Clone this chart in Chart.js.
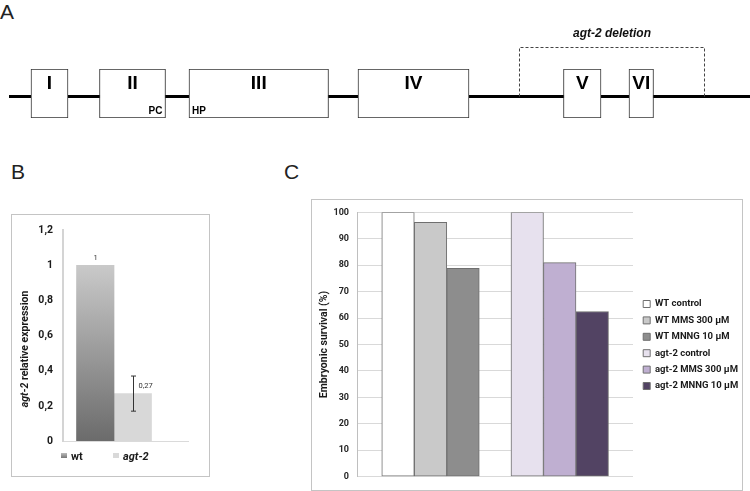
<!DOCTYPE html>
<html>
<head>
<meta charset="utf-8">
<script src="https://cdn.jsdelivr.net/npm/chart.js@4.4.1/dist/chart.umd.min.js"></script>
<style>
    body { margin: 0; background: #fff; }
    #page { position: relative; width: 750px; height: 491px; overflow: hidden; font-family: Roboto, 'Liberation Sans', sans-serif; }
    .abs { position: absolute; }
    .panel-letter { font-family: 'Liberation Sans', sans-serif; font-size: 21px; color: #222; line-height: 1; }
    .frame { border: 1px solid #c4c4c4; box-sizing: border-box; }
    .ytitle { font-weight: bold; font-size: 10.5px; color: #1a1a1a; white-space: nowrap; transform: translate(-50%, -50%) rotate(-90deg); }
    .leg-box { width: 6px; height: 5px; }
    .leg-text { font-weight: bold; font-size: 11px; color: #1a1a1a; line-height: 1; transform: translateY(-50%); }
</style>
</head>
<body>
<div id="page">
    <div class="abs panel-letter" style="left:0px; top:1px;">A</div>
    <div class="abs panel-letter" style="left:11px; top:161px;">B</div>
    <div class="abs panel-letter" style="left:284px; top:161px;">C</div>

    <canvas id="geneChart" class="abs" style="left:0; top:0;" width="750" height="140"></canvas>

    <div class="abs frame" style="left:11px; top:214px; width:199px; height:263px;"></div>
    <canvas id="exprChart" class="abs" style="left:11px; top:214px;" width="199" height="263"></canvas>
    <div class="abs ytitle" style="left:24px; top:349px;"><i>agt-2</i> relative expression</div>
    <div class="abs leg-box" id="legWt" style="left:61px; top:453px;"></div>
    <div class="abs leg-text" style="left:71px; top:456px;">wt</div>
    <div class="abs leg-box" id="legAgt" style="left:113px; top:453px;"></div>
    <div class="abs leg-text" style="left:123px; top:456px;"><i>agt-2</i></div>

    <div class="abs frame" style="left:311px; top:199px; width:432px; height:292px;"></div>
    <canvas id="survivalChart" class="abs" style="left:311px; top:199px;" width="431" height="291"></canvas>
</div>

<script>
// ---- A: agt-2 gene structure (positions along the gene, picture units) ----
const exonNames = ['I', 'II', 'III', 'IV', 'V', 'VI'];
const exonStart = [31, 99.5, 189, 358, 563.5, 629];
const exonEnd = [68, 165.5, 328.5, 469, 601, 653.5];
const geneSpan = [9, 750];
const deletionSpan = [518.5, 704];
const siteNames = ['PC', 'HP'];
const siteExon = [1, 2];
const siteSide = ['end', 'start'];

// ---- B: agt-2 relative expression ----
const exprGroups = ['wt', 'agt-2'];
const exprValues = [1, 0.27];
const exprErrors = [0, 0.1];
const exprTicks = ['0', '0,2', '0,4', '0,6', '0,8', '1', '1,2'];

// ---- C: embryonic survival (%) ----
const survivalGroups = ['WT', 'agt-2'];
const treatments = ['control', 'MMS 300 µM', 'MNNG 10 µM'];
const wtSurvival = [100, 96.2, 78.8];
const agt2Survival = [100, 81, 62.5];
const survivalTicks = ['0', '10', '20', '30', '40', '50', '60', '70', '80', '90', '100'];

const narrowBold = "'Liberation Sans Narrow', 'Liberation Sans', Arial, sans-serif";
const labelFont = "Roboto, 'Liberation Sans', sans-serif";

// gene line, deletion bracket and exon labels
const genePlugin = {
    id: 'genePlugin',
    beforeDatasetsDraw(chart) {
        const ctx = chart.ctx;
        const x = chart.scales.x;
        const bar = chart.getDatasetMeta(0).data[0];
        const lineY = bar.y + 3;
        ctx.save();
        ctx.strokeStyle = '#000';
        ctx.lineWidth = 3;
        ctx.beginPath();
        ctx.moveTo(x.getPixelForValue(geneSpan[0]), lineY);
        ctx.lineTo(x.getPixelForValue(geneSpan[1]), lineY);
        ctx.stroke();

        const top = bar.y - bar.height / 2 - 22;
        const x0 = Math.round(x.getPixelForValue(deletionSpan[0])) + 0.5;
        const x1 = Math.round(x.getPixelForValue(deletionSpan[1])) + 0.5;
        ctx.strokeStyle = '#444';
        ctx.lineWidth = 1;
        ctx.setLineDash([3, 2]);
        ctx.beginPath();
        ctx.moveTo(x0, lineY);
        ctx.lineTo(x0, top + 0.5);
        ctx.lineTo(x1, top + 0.5);
        ctx.lineTo(x1, lineY);
        ctx.stroke();
        ctx.setLineDash([]);

        ctx.fillStyle = '#111';
        ctx.font = 'italic bold 12px ' + narrowBold;
        ctx.textAlign = 'center';
        ctx.textBaseline = 'middle';
        ctx.fillText('agt-2 deletion', (x0 + x1) / 2, top - 13);
        ctx.restore();
    },
    afterDatasetsDraw(chart) {
        const ctx = chart.ctx;
        const bars = chart.getDatasetMeta(0).data;
        ctx.save();
        ctx.fillStyle = '#000';
        ctx.textBaseline = 'middle';
        ctx.textAlign = 'center';
        ctx.font = 'bold 19px ' + narrowBold;
        bars.forEach((b, i) => {
            const top = b.y - b.height / 2;
            ctx.fillText(exonNames[i], (b.x + b.base) / 2, top + 15);
        });
        ctx.font = 'bold 10px ' + narrowBold;
        siteNames.forEach((name, i) => {
            const b = bars[siteExon[i]];
            const bottom = b.y + b.height / 2;
            const left = Math.min(b.x, b.base), right = Math.max(b.x, b.base);
            if (siteSide[i] === 'end') {
                ctx.textAlign = 'right';
                ctx.fillText(name, right - 3, bottom - 7);
            } else {
                ctx.textAlign = 'left';
                ctx.fillText(name, left + 3, bottom - 7);
            }
        });
        ctx.restore();
    }
};

new Chart(document.getElementById('geneChart'), {
    type: 'bar',
    data: {
        labels: ['agt-2'],
        datasets: [{
            data: exonStart.map((s, i) => ({ y: 'agt-2', x: [s, exonEnd[i]] })),
            backgroundColor: '#fff',
            borderColor: '#333',
            borderWidth: 1,
            borderSkipped: false,
            barPercentage: 1,
            categoryPercentage: 1
        }]
    },
    options: {
        indexAxis: 'y',
        responsive: false,
        animation: false,
        layout: { padding: { top: 69, bottom: 22, left: 0, right: 0 } },
        plugins: { legend: { display: false }, tooltip: { enabled: false } },
        scales: {
            x: { type: 'linear', min: 0, max: 750, display: false },
            y: { display: false }
        }
    },
    plugins: [genePlugin]
});

// ---- B chart ----
function fmtComma(v) { return String(v).replace('.', ','); }

const errorPlugin = {
    id: 'errorPlugin',
    afterDatasetsDraw(chart) {
        const ctx = chart.ctx;
        const y = chart.scales.y;
        ctx.save();
        chart.data.datasets.forEach((ds, i) => {
            const bar = chart.getDatasetMeta(i).data[0];
            const err = exprErrors[i];
            const v = exprValues[i];
            const cx = Math.round(bar.x) + 0.5;
            if (err > 0) {
                const y1 = y.getPixelForValue(v + err), y2 = y.getPixelForValue(v - err);
                ctx.strokeStyle = '#333';
                ctx.lineWidth = 1;
                ctx.beginPath();
                ctx.moveTo(cx, y1); ctx.lineTo(cx, y2);
                ctx.moveTo(cx - 2.5, y1); ctx.lineTo(cx + 2.5, y1);
                ctx.moveTo(cx - 2.5, y2); ctx.lineTo(cx + 2.5, y2);
                ctx.stroke();
            }
            ctx.fillStyle = '#333';
            ctx.font = '7.5px ' + labelFont;
            ctx.textBaseline = 'middle';
            if (err > 0) {
                ctx.textAlign = 'left';
                ctx.fillText(fmtComma(v), cx + 5, bar.y - 7);
            } else {
                ctx.textAlign = 'center';
                ctx.fillText(fmtComma(v), cx, bar.y - 7);
            }
        });
        ctx.restore();
    }
};

function wtGradient(ctx) {
    const area = ctx.chart.chartArea;
    if (!area) return '#999';
    const g = ctx.chart.ctx.createLinearGradient(0, area.top + 30, 0, area.bottom);
    g.addColorStop(0, '#cccccc');
    g.addColorStop(1, '#6b6b6b');
    return g;
}
document.getElementById('legWt').style.background = 'linear-gradient(#bbb, #777)';
document.getElementById('legAgt').style.background = '#d9d9d9';

new Chart(document.getElementById('exprChart'), {
    type: 'bar',
    data: {
        datasets: [
            { label: exprGroups[0], data: [{ x: 0, y: exprValues[0] }], backgroundColor: wtGradient },
            { label: exprGroups[1], data: [{ x: 0, y: exprValues[1] }], backgroundColor: '#d8d8d8' }
        ]
    },
    options: {
        responsive: false,
        animation: false,
        layout: { padding: { top: 12, bottom: 36, left: 0, right: 22 } },
        datasets: { bar: { barThickness: 37.5 } },
        plugins: { legend: { display: false }, tooltip: { enabled: false } },
        scales: {
            x: {
                type: 'linear', min: -1, max: 1.45, offset: false,
                ticks: { display: false }, grid: { display: false },
                border: { color: '#dadada', width: 1 },
                afterFit: s => { s.height = 0; }
            },
            y: {
                min: 0, max: 1.2,
                ticks: {
                    stepSize: 0.2, padding: 10, color: '#1a1a1a',
                    font: { family: labelFont, weight: 'bold', size: 10.5 },
                    callback: (v, i) => exprTicks[i]
                },
                grid: { display: false, drawTicks: false },
                border: { color: '#d4d4d4', width: 2 },
                afterFit: s => { s.width = 52; }
            }
        }
    },
    plugins: [errorPlugin]
});

// ---- C chart ----
const wtColors = ['#ffffff', '#c9c9c9', '#8d8d8d'];
const agt2Colors = ['#e7e1ee', '#bfafd1', '#524363'];
const survivalDatasets = [];
treatments.forEach((t, i) => {
    survivalDatasets.push({
        label: survivalGroups[0] + ' ' + t,
        data: [{ x: 0, y: wtSurvival[i] }, { x: 1, y: null }],
        backgroundColor: wtColors[i]
    });
});
treatments.forEach((t, i) => {
    survivalDatasets.push({
        label: survivalGroups[1] + ' ' + t,
        data: [{ x: 0, y: null }, { x: 1, y: agt2Survival[i] }],
        backgroundColor: agt2Colors[i]
    });
});

new Chart(document.getElementById('survivalChart'), {
    type: 'bar',
    data: { datasets: survivalDatasets },
    options: {
        responsive: false,
        animation: false,
        skipNull: true,
        layout: { padding: { top: 9, bottom: 8, left: 0, right: 0 } },
        datasets: { bar: { barThickness: 32.5, borderColor: '#6f6f6f', borderWidth: 1, borderSkipped: false } },
        plugins: {
            tooltip: { enabled: false },
            legend: {
                position: 'right',
                align: 'center',
                maxWidth: 105.7,
                labels: {
                    boxWidth: 7, boxHeight: 7, padding: 6.9, color: '#1a1a1a',
                    font: { family: labelFont, weight: 'bold', size: 9.5 }
                }
            }
        },
        scales: {
            x: { type: 'linear', min: -0.569, max: 1.567, offset: false, display: false },
            y: {
                min: 0, max: 100,
                title: {
                    display: true, text: 'Embryonic survival (%)', color: '#1a1a1a',
                    font: { family: labelFont, weight: 'bold', size: 10.5 },
                    padding: { top: 7, bottom: 0 }
                },
                ticks: {
                    stepSize: 10, padding: 8, color: '#262626',
                    font: { family: labelFont, weight: 'bold', size: 9 },
                    callback: (v, i) => survivalTicks[i]
                },
                grid: { color: '#d9d9d9', drawTicks: false },
                border: { color: '#bfbfbf' },
                afterFit: s => { s.width = 46; }
            },
            spacer: {
                type: 'linear', position: 'right', display: true,
                ticks: { display: false }, grid: { display: false }, border: { display: false },
                afterFit: s => { s.width = 3.3; }
            }
        }
    }
});
</script>
</body>
</html>
